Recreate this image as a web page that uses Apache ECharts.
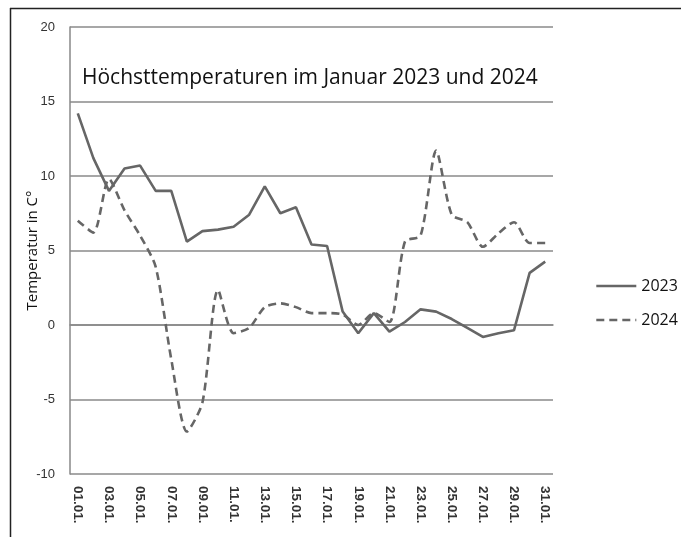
<!DOCTYPE html>
<html>
<head>
<meta charset="utf-8">
<script src="https://cdn.jsdelivr.net/npm/echarts@6/dist/echarts.min.js"></script>
<style>
html,body{margin:0;padding:0;background:#fff;}
#chart{width:681px;height:537px;}
</style>
</head>
<body>
<div id="chart"></div>
<script>
const days = ["01.01.","02.01.","03.01.","04.01.","05.01.","06.01.","07.01.","08.01.","09.01.","10.01.","11.01.","12.01.","13.01.","14.01.","15.01.","16.01.","17.01.","18.01.","19.01.","20.01.","21.01.","22.01.","23.01.","24.01.","25.01.","26.01.","27.01.","28.01.","29.01.","30.01.","31.01."];
const temp2023 = [14.2, 11.2, 9.0, 10.5, 10.7, 9.0, 9.0, 5.6, 6.3, 6.4, 6.6, 7.4, 9.3, 7.5, 7.9, 5.4, 5.3, 0.9, -0.55, 0.8, -0.45, 0.2, 1.05, 0.9, 0.4, -0.2, -0.8, -0.55, -0.35, 3.5, 4.25];
const temp2024 = [7.0, 6.2, 9.8, 7.7, 6.0, 3.9, -2.3, -7.15, -5.2, 2.35, -0.55, -0.2, 1.2, 1.45, 1.2, 0.8, 0.8, 0.7, 0.0, 0.8, 0.2, 5.6, 6.0, 11.7, 7.4, 6.9, 5.25, 6.15, 6.9, 5.5, 5.5];
const yTicks = { min: -10, max: 20, interval: 5 };
const titleText = "Höchsttemperaturen im Januar 2023 und 2024";
const yAxisTitle = "Temperatur in C°";

const chart = echarts.init(document.getElementById('chart'));
const lineColor = '#666666';
chart.setOption({
  backgroundColor: '#ffffff',
  animation: false,
  title: {
    text: titleText,
    left: 77, top: 63,
    textStyle: { fontFamily: 'Open Sans', fontSize: 21, fontWeight: 'normal', color: '#111' }
  },
  legend: {
    orient: 'vertical',
    left: 590, top: 273,
    itemWidth: 40, itemHeight: 14, itemGap: 18,
    itemStyle: { opacity: 0 },
    lineStyle: { width: 2.6 },
    textStyle: { fontFamily: 'Open Sans', fontSize: 16, color: '#111' },
    data: ['2023', '2024']
  },
  grid: { left: 70, top: 27, width: 483, height: 447 },
  xAxis: {
    type: 'category',
    data: days,
    boundaryGap: true,
    axisLine: { show: true, lineStyle: { color: '#888', width: 1.5 } },
    axisTick: { show: false },
    axisLabel: {
      interval: 1, rotate: -90, margin: 12,
      fontFamily: 'Liberation Sans', fontSize: 13.5, fontWeight: 'bold', color: '#333'
    }
  },
  yAxis: {
    type: 'value',
    min: yTicks.min, max: yTicks.max, interval: yTicks.interval,
    name: yAxisTitle,
    nameLocation: 'middle',
    nameGap: 30,
    nameMoveOverlap: false,
    nameTextStyle: { fontFamily: 'Open Sans', fontSize: 15, color: '#111' },
    axisLine: { show: true, lineStyle: { color: '#888', width: 1.5 } },
    axisTick: { show: false },
    axisLabel: { margin: 15, fontFamily: 'Liberation Sans', fontSize: 13, color: '#333' },
    splitLine: { lineStyle: { color: '#8a8a8a', width: 1.5 } }
  },
  series: [
    {
      name: '2023', type: 'line', data: temp2023,
      symbol: 'none',
      lineStyle: { color: lineColor, width: 2.6, type: 'solid' },
      itemStyle: { color: lineColor }
    },
    {
      name: '2024', type: 'line', data: temp2024,
      symbol: 'none', smooth: 0.25,
      lineStyle: { color: lineColor, width: 2.6, type: [8, 5] },
      itemStyle: { color: lineColor }
    }
  ],
  graphic: [
    { type: 'line', shape: { x1: 10.5, y1: 8, x2: 10.5, y2: 537 }, style: { stroke: '#222', lineWidth: 1.5 } },
    { type: 'line', shape: { x1: 10, y1: 8.5, x2: 681, y2: 8.5 }, style: { stroke: '#222', lineWidth: 1.5 } }
  ]
});
</script>
</body>
</html>
